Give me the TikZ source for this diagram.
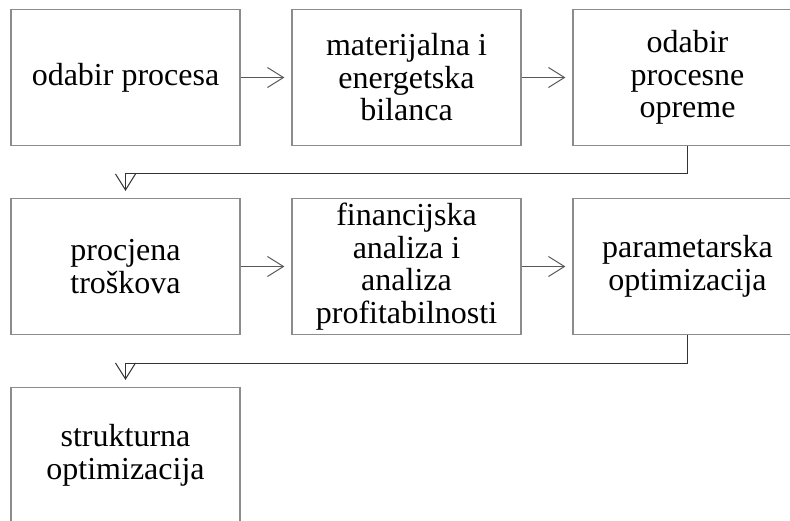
\documentclass[tikz,border=0pt]{standalone}
\usepackage{fontspec}
\setmainfont{Liberation Serif}
\usetikzlibrary{arrows.meta}

\tikzset{
  stage/.style={draw=black!45, line width=1.2pt, minimum width=229pt,
    minimum height=136pt, inner sep=0pt, align=center,
    font=\fontsize{32}{32.5}\selectfont},
  flow/.style={draw=black!65, line width=1pt,
    -{Straight Barb[length=16pt,width=20pt]}, shorten >=7pt},
  turn/.style={flow, draw=black!80},
}

\begin{document}
\begin{tikzpicture}[x=1pt,y=-1pt]
\clip (0,0) rectangle (790,520);

% first row
\node[stage] (process) at (125.5,77.5) {odabir procesa};
\node[stage] (balance) at (406.5,77.5) {materijalna i\\energetska\\bilanca};
\node[stage] (equip) at (687.5,77.5) {odabir\\procesne\\opreme};

% second row
\node[stage] (cost) at (125.5,266.5) {procjena\\troškova};
\node[stage] (finance) at (406.5,266.5) {financijska\\analiza i\\analiza\\profitabilnosti};
\node[stage] (param) at (687.5,266.5) {parametarska\\optimizacija};

% third row
\node[stage] (struct) at (125.5,455.5) {strukturna\\optimizacija};

\draw[flow] (process) -- (balance);
\draw[flow] (balance) -- (equip);
\draw[flow] (cost) -- (finance);
\draw[flow] (finance) -- (param);

\draw[turn] (equip.south) -- ++(0,27.5) -| (cost.north);
\draw[turn] (param.south) -- ++(0,28.5) -| (struct.north);
\end{tikzpicture}
\end{document}
